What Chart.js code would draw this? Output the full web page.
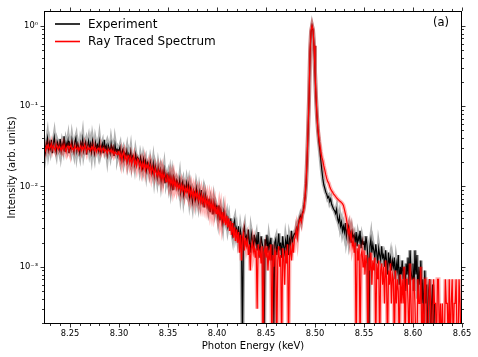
<!DOCTYPE html>
<html>
<head>
<meta charset="utf-8">
<script src="https://cdn.jsdelivr.net/npm/chart.js@4.4.1/dist/chart.umd.min.js"></script>
<style>
    html, body { margin: 0; padding: 0; background: #fff; }
    #wrap { width: 478px; height: 357px; }
</style>
</head>
<body>
<div id="wrap"><canvas id="spectrum" width="478" height="357"></canvas></div>
<script>
// Energy grid (keV): first sample and spacing
const energyStart = 8.224;
const energyStep = 0.001;

// Intensities, in units of 1e-3 (arb.), one row per 0.01 keV
const experiment = [
    36, 27, 33, 40, 29, 35,
    30, 38, 26, 34, 41, 31, 27, 36, 33, 29,
    39, 28, 34, 30, 42, 27, 35, 31, 37, 26,
    33, 29, 38, 31, 27, 36, 40, 28, 34, 30,
    26, 35, 31, 39, 28, 33, 36, 25, 32, 37,
    29, 34, 27, 37, 31, 26, 35, 30, 33, 28,
    36, 27, 31, 34, 26, 38, 29, 32, 25, 33,
    30, 26, 34, 28, 31, 24, 33, 27, 29, 25,
    28, 31, 23, 27, 29, 22, 26, 24, 28, 21,
    25, 22, 27, 20, 24, 23, 19, 25, 21, 23,
    22, 18, 23, 20, 17, 22, 19, 21, 16, 20,
    19, 16, 20, 17, 15, 19, 14, 18, 16, 13,
    17, 14, 16, 12, 15, 13, 16, 11, 14, 12.5,
    14, 11, 13.5, 10, 12.5, 9, 13, 11.5, 10.5, 12,
    11, 9.5, 12, 8.5, 10.5, 11.5, 8, 10, 9, 11,
    9, 10.5, 7.5, 9.5, 8, 6.5, 9, 8.5, 7, 9.5,
    8, 6.5, 8.5, 7, 9, 6, 7.5, 5.5, 8, 7,
    6.5, 5.5, 7, 4.8, 6.5, 5.8, 4.5, 6.2, 5, 5.8,
    5.2, 4.2, 5.8, 3.8, 5, 4.4, 3.5, 4.8, 4, 3.6,
    4.2, 3.2, 3.8, 2.8, 4, 3, 2.5, 3.4, 3.8, 2.6,
    3, 2.4, 3.2, 2, 2.8, 2.3, 0.1, 2.7, 3.1, 2.2,
    2.4, 1.8, 2.9, 2.1, 1.5, 2.6, 2.2, 1.7, 2.5, 2.0,
    2.3, 1.6, 2.7, 1.9, 1.3, 2.4, 2.0, 1.7, 0.1, 2.2,
    1.8, 2.5, 1.5, 2.1, 1.7, 2.3, 1.2, 1.9, 0.2, 2.0,
    2.2, 1.4, 1.9, 2.6, 1.6, 2.0, 1.3, 2.4, 1.8, 1.5,
    2.1, 1.7, 2.5, 1.4, 2.2, 1.9, 2.8, 2.0, 2.4, 2.6,
    2.5, 3.0, 2.7, 3.4, 3.9, 4.3, 3.8, 4.6, 5.0, 6.0,
    7.5, 11, 22, 50, 130, 470, 840, 1000, 880, 560,
    270, 130, 75, 50, 36, 28, 21, 16, 12.5, 10.5,
    9.5, 8.5, 8, 7.2, 7.5, 6.5, 7, 6, 5.6, 5.2,
    5, 4.6, 5.2, 4, 3.6, 4.2, 3.2, 3.6, 2.8, 3.2,
    2.7, 3.5, 2.4, 2.9, 3.2, 2.2, 2.6, 2.0, 2.7, 2.3,
    2.5, 2.0, 2.7, 1.8, 2.4, 2.1, 2.8, 1.7, 2.2, 1.9,
    2.1, 1.6, 2.4, 1.9, 1.3, 0.1, 1.8, 2.2, 1.5, 1.9,
    1.6, 1.3, 1.9, 1.5, 1.1, 1.7, 1.4, 1.2, 1.8, 1.3,
    1.4, 1.0, 1.6, 1.2, 0.8, 1.5, 1.1, 1.3, 0.9, 1.2,
    1.0, 1.3, 0.7, 1.1, 0.9, 1.4, 0.6, 1.0, 0.8, 1.2,
    0.7, 1.0, 0.5, 1.1, 0.8, 1.3, 0.6, 1.6, 0.9, 0.7,
    1.1, 0.5, 1.6, 0.8, 1.4, 0.4, 1.0, 0.6, 1.2, 0.35,
    0.7, 0.2, 0.9, 0.35, 0.6, 0.1, 0.5, 0.7, 0.1, 0.35,
    0.6, 0.1, 0.35, null, null, null, null, null, null, null,
    null, null, null, null, null, null, null, null, null, null,
    null, null, null, null, null, null, null, null, null, null,
    null
];

const rayTraced = [
    31, 28, 32, 30, 33, 29,
    31, 34, 29, 32, 30, 28, 33, 31, 29, 32,
    30, 28, 32, 29, 33, 30, 27, 31, 32, 29,
    31, 33, 29, 30, 28, 32, 30, 29, 31, 28,
    30, 32, 28, 31, 29, 33, 30, 27, 31, 29,
    30, 28, 31, 29, 32, 28, 30, 27, 29, 30,
    28, 31, 27, 29, 30, 27, 29, 28, 26, 29,
    28, 27, 29, 26, 28, 25, 27, 26, 25, 27,
    27, 23, 26, 21, 25, 27, 22, 24, 20, 24,
    24, 20, 23, 19, 22, 24, 19, 21, 18, 22,
    21, 18, 20, 16.5, 19.5, 17, 20, 16, 18.5, 17,
    19, 15.5, 18, 14.5, 17.5, 16, 14, 17, 15, 13.5,
    16, 13.5, 15.5, 12.5, 15, 12, 14.5, 13, 11.5, 14,
    13.5, 11, 13, 10.5, 12.5, 10, 12.5, 10, 11.5, 9.5,
    11, 9.5, 10.5, 8.8, 10.5, 9, 10, 8.2, 9.6, 8.6,
    9.8, 8, 9.5, 7.6, 9.2, 7.5, 8.8, 7, 8.6, 7.3,
    8.4, 6.8, 8, 6.4, 7.8, 6.2, 7.4, 6, 7.2, 5.8,
    7, 5.6, 6.8, 5.2, 6.4, 5, 6.2, 4.8, 5.8, 4.6,
    5.6, 4.4, 5.4, 4, 5, 3.7, 4.8, 3.5, 4.5, 3.3,
    4.3, 3.1, 4, 2.8, 3.7, 2.5, 3.5, 2.3, 3.1, 2.1,
    2.9, 2, 2.7, 1.5, 2.5, 1.2, 2.3, 2.6, 1.6, 2.3,
    1.8, 2.1, 1.4, 1.9, 0.9, 1.7, 2.0, 1.5, 1.8, 1.3,
    1.7, 0.3, 1.9, 1.4, 1.6, 1.1, 1.8, 0.1, 1.5, 1.7,
    1.3, 1.8, 0.9, 1.6, 1.2, 1.9, 0.1, 1.4, 1.0, 1.6,
    1.5, 0.1, 1.2, 1.8, 1.0, 1.4, 0.1, 1.7, 1.3, 0.6,
    1.6, 1.1, 1.9, 0.1, 1.4, 1.7, 1.2, 2.0, 1.5, 2.2,
    2.4, 2.9, 2.3, 3.2, 3.7, 4.0, 3.6, 4.4, 4.8, 5.6,
    7.8, 12, 24, 55, 140, 500, 870, 1000, 890, 570,
    280, 135, 78, 52, 40, 33, 27, 23, 21, 18,
    16, 14, 12.5, 11.5, 11, 10, 9.3, 8.8, 8.5, 8,
    7.8, 7.5, 7.2, 7.0, 6.8, 6.6, 6.5, 6.3, 6.1, 5.8,
    5.2, 4.6, 4.0, 3.3, 2.6, 3.0, 2.2, 2.6, 1.8, 2.1,
    1.5, 2.0, 0.1, 1.7, 1.2, 1.9, 0.1, 1.4, 1.6, 1.0,
    1.6, 0.8, 1.4, 1.1, 0.1, 1.3, 0.9, 1.5, 0.6, 1.2,
    0.9, 1.3, 0.1, 1.1, 0.7, 1.2, 0.1, 0.9, 1.1, 0.6,
    1.0, 0.35, 1.2, 0.7, 0.1, 0.9, 0.6, 1.1, 0.35, 0.8,
    0.7, 0.1, 0.9, 0.35, 0.7, 0.5, 0.1, 0.8, 0.35, 0.7,
    0.35, 1.0, 0.1, 0.7, 0.7, 0.35, 0.1, 1.1, 0.35, 0.1,
    0.7, 0.7, 0.35, 0.1, 0.1, 0.7, 0.35, 0.35, 1.0, 0.1,
    0.35, 0.1, 0.7, 0.7, 0.1, 0.1, 0.35, 0.7, 0.35, 0.1,
    0.1, 0.7, 0.35, 0.35, 0.1, 0.7, 0.7, 0.1, 0.35, 0.1,
    0.35, 0.1, 0.1, 0.7, 0.35, 0.35, 0.1, 0.7, 0.1, 0.35,
    0.7, 0.1, 0.35, 0.35, 0.7, 0.1, 0.1, 0.7, 0.35, 0.1,
    0.35
];

// Axes
const xRange = [8.2235, 8.65];
const yRange = [1.94e-4, 1.53];
const xTicks = [8.25, 8.30, 8.35, 8.40, 8.45, 8.50, 8.55, 8.60, 8.65];
const yTicks = [1e-3, 1e-2, 1e-1, 1];
const yTickLabels = ['10⁻³', '10⁻²', '10⁻¹', '10⁰'];

const FONT = '"DejaVu Sans", sans-serif';

function toPoints(vals) {
    return vals.map((v, i) => ({
        x: +(energyStart + i * energyStep).toFixed(3),
        y: v === null ? null : v * 1e-3
    }));
}

const expPts = toPoints(experiment);
const rtPts = toPoints(rayTraced);

// Frame, ticks on all four sides, legend, axis titles, panel tag
const decorations = {
    id: 'decorations',
    afterDraw(chart) {
        const { ctx, chartArea: a, scales: { x, y } } = chart;
        ctx.save();
        ctx.strokeStyle = '#000';
        ctx.lineWidth = 1;
        ctx.strokeRect(Math.round(a.left) + 0.5, Math.round(a.top) + 0.5,
            Math.round(a.right - a.left) - 1, Math.round(a.bottom - a.top) - 1);

        ctx.lineWidth = 0.8;
        ctx.beginPath();
        for (let k = 823; k <= 865; k++) {
            const v = k / 100;
            if (v < xRange[0] || v > xRange[1] + 1e-9) continue;
            const px = Math.round(x.getPixelForValue(v)) + 0.5;
            const len = (k % 5 === 0) ? 3.5 : 2;
            ctx.moveTo(px, a.bottom); ctx.lineTo(px, a.bottom + len);
            ctx.moveTo(px, a.top); ctx.lineTo(px, a.top - len);
        }
        for (let d = -4; d <= 0; d++) {
            for (let m = 1; m <= 9; m++) {
                const v = m * Math.pow(10, d);
                if (v < yRange[0] || v > yRange[1]) continue;
                const py = Math.round(y.getPixelForValue(v)) + 0.5;
                const len = (m === 1) ? 3.5 : 2;
                ctx.moveTo(a.left, py); ctx.lineTo(a.left - len, py);
                ctx.moveTo(a.right, py); ctx.lineTo(a.right + len, py);
            }
        }
        ctx.stroke();

        // legend
        const items = [['Experiment', '#000000', 24], ['Ray Traced Spectrum', '#ff0000', 41.5]];
        ctx.font = '12px ' + FONT;
        ctx.textBaseline = 'middle';
        ctx.textAlign = 'left';
        items.forEach(([label, color, ly]) => {
            ctx.strokeStyle = color;
            ctx.lineWidth = 1.6;
            ctx.beginPath();
            ctx.moveTo(55, ly); ctx.lineTo(80, ly);
            ctx.stroke();
            ctx.fillStyle = '#000';
            ctx.fillText(label, 88, ly + 0.5);
        });

        // panel tag
        ctx.font = '11.5px ' + FONT;
        ctx.textAlign = 'center';
        ctx.fillText('(a)', 441, 23.5);

        // axis titles
        ctx.font = '10px ' + FONT;
        ctx.textBaseline = 'alphabetic';
        ctx.fillText('Photon Energy (keV)', (a.left + a.right) / 2, 349);
        ctx.save();
        ctx.translate(15, (a.top + a.bottom) / 2);
        ctx.rotate(-Math.PI / 2);
        ctx.fillText('Intensity (arb. units)', 0, 0);
        ctx.restore();
        ctx.restore();
    }
};

new Chart(document.getElementById('spectrum').getContext('2d'), {
    type: 'line',
    data: {
        datasets: [
            { label: 'Ray Traced Spectrum', data: rtPts, borderColor: '#ff0000', borderWidth: 1.2, order: 0 },
            { label: 'rt band', data: rtPts, borderColor: 'rgba(255,0,0,0.3)', borderWidth: 4, order: 1 },
            { label: 'Experiment', data: expPts, borderColor: '#000000', borderWidth: 1.2, order: 2 },
            { label: 'exp band', data: expPts, borderColor: 'rgba(0,0,0,0.3)', borderWidth: 4, order: 3 }
        ]
    },
    options: {
        responsive: false,
        animation: false,
        devicePixelRatio: 1,
        layout: { padding: { top: 8, right: 16, left: 0, bottom: 0 } },
        plugins: { legend: { display: false }, tooltip: { enabled: false } },
        elements: { point: { radius: 0 }, line: { tension: 0, fill: false } },
        datasets: { line: { clip: 0, spanGaps: false } },
        scales: {
            x: {
                type: 'linear', min: xRange[0], max: xRange[1],
                grid: { display: false, drawTicks: false },
                border: { display: false },
                afterBuildTicks: s => { s.ticks = xTicks.map(v => ({ value: v })); },
                afterFit: s => { s.height = 33; },
                ticks: {
                    padding: 5, color: '#000', maxRotation: 0, autoSkip: false,
                    font: { family: FONT, size: 8.3 },
                    callback: v => v.toFixed(2)
                }
            },
            y: {
                type: 'logarithmic', min: yRange[0], max: yRange[1],
                grid: { display: false, drawTicks: false },
                border: { display: false },
                afterBuildTicks: s => { s.ticks = yTicks.map(v => ({ value: v })); },
                afterFit: s => { s.width = 44; },
                ticks: {
                    padding: 6, color: '#000', autoSkip: false,
                    font: { family: FONT, size: 8.3 },
                    callback: (v, i) => yTickLabels[i]
                }
            }
        }
    },
    plugins: [decorations]
});
</script>
</body>
</html>
